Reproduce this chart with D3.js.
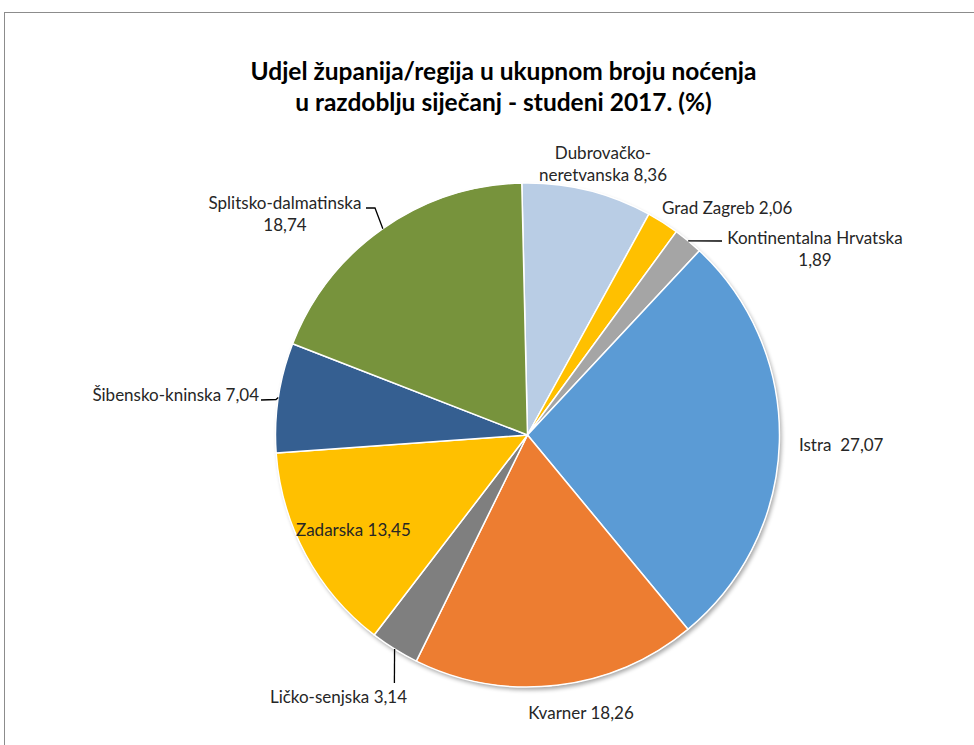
<!DOCTYPE html>
<html>
<head>
<meta charset="utf-8">
<script src="https://cdn.jsdelivr.net/npm/d3@7"></script>
<style>
  html, body { margin: 0; padding: 0; background: #fff; }
  svg { display: block; }
  text { font-family: Lato, "Open Sans", sans-serif; }
</style>
</head>
<body>
<svg id="chart" width="974" height="745"></svg>
<script>
// ---- data ----
const categories = [
  "Dubrovačko-neretvanska", "Grad Zagreb", "Kontinentalna Hrvatska", "Istra",
  "Kvarner", "Ličko-senjska", "Zadarska", "Šibensko-kninska", "Splitsko-dalmatinska"
];
const values = [8.36, 2.06, 1.89, 27.07, 18.26, 3.14, 13.45, 7.04, 18.74];
const valueLabels = ["8,36", "2,06", "1,89", "27,07", "18,26", "3,14", "13,45", "7,04", "18,74"];
const sliceColors = ["#B9CDE5", "#FFC000", "#A5A5A5", "#5B9BD5", "#ED7D31", "#7F7F7F", "#FFC000", "#355F91", "#77933C"];
const titleLines = ["Udjel županija/regija u ukupnom broju noćenja", "u razdoblju siječanj - studeni 2017. (%)"];

// ---- layout ----
const W = 974, H = 745;
const cx = 527.5, cy = 435, R = 252;
const startOffset = -1.3 * Math.PI / 180;

// label text lines & placement (layout, not data)
const labelLayout = {
  "Dubrovačko-neretvanska": {lines: ["Dubrovačko-", "neretvanska " + valueLabels[0]], x: 603, y: 159, anchor: "middle"},
  "Grad Zagreb": {lines: ["Grad Zagreb " + valueLabels[1]], x: 662, y: 214, anchor: "start"},
  "Kontinentalna Hrvatska": {lines: ["Kontinentalna Hrvatska", valueLabels[2]], x: 815, y: 244, anchor: "middle", leader: [[722, 241]]},
  "Istra": {lines: ["Istra\u00a0\u00a0" + valueLabels[3]], x: 799, y: 451, anchor: "start"},
  "Kvarner": {lines: ["Kvarner " + valueLabels[4]], x: 581, y: 719, anchor: "middle"},
  "Ličko-senjska": {lines: ["Ličko-senjska " + valueLabels[5]], x: 338.5, y: 703, anchor: "middle", leader: [[394.4, 683]]},
  "Zadarska": {lines: ["Zadarska " + valueLabels[6]], x: 296, y: 536, anchor: "start"},
  "Šibensko-kninska": {lines: ["Šibensko-kninska " + valueLabels[7]], x: 259, y: 401, anchor: "end", leader: [[276, 399.5], [261, 400]]},
  "Splitsko-dalmatinska": {lines: ["Splitsko-dalmatinska", valueLabels[8]], x: 285, y: 209, anchor: "middle", leader: [[375, 208], [366, 208]]}
};
const lineGap = 22;

const svg = d3.select("#chart");

// frame
svg.append("rect")
  .attr("x", 4.5).attr("y", 12.5)
  .attr("width", 1200).attr("height", 1200)
  .attr("fill", "#fff").attr("stroke", "#8c8c8c").attr("stroke-width", 1);

// title
const title = svg.append("text")
  .attr("text-anchor", "middle")
  .attr("font-weight", "bold")
  .attr("font-size", 24.5)
  .attr("fill", "#000");
titleLines.forEach((t, i) => {
  title.append("tspan").attr("x", 503.5).attr("y", 80 + i * 31).text(t);
});

// shadow filter
const defs = svg.append("defs");
const f = defs.append("filter").attr("id", "shadow").attr("x", "-10%").attr("y", "-10%").attr("width", "120%").attr("height", "120%");
f.append("feGaussianBlur").attr("in", "SourceAlpha").attr("stdDeviation", 2);
f.append("feOffset").attr("dx", 1.5).attr("dy", 2.5).attr("result", "ob");
f.append("feComponentTransfer").append("feFuncA").attr("type", "linear").attr("slope", 0.35);
const merge = f.append("feMerge");
merge.append("feMergeNode");
merge.append("feMergeNode").attr("in", "SourceGraphic");

const data = categories.map((c, i) => ({name: c, value: values[i], color: sliceColors[i]}));

const pie = d3.pie()
  .value(d => d.value)
  .sort(null)
  .startAngle(startOffset)
  .endAngle(startOffset + 2 * Math.PI);

const arc = d3.arc().innerRadius(0).outerRadius(R);
const arcs = pie(data);

const g = svg.append("g").attr("transform", `translate(${cx},${cy})`);
g.append("circle").attr("r", R).attr("fill", "#fff").attr("filter", "url(#shadow)");
g.selectAll("path.slice")
  .data(arcs)
  .enter().append("path")
  .attr("class", "slice")
  .attr("d", arc)
  .attr("fill", d => d.data.color)
  .attr("stroke", "#fff")
  .attr("stroke-width", 1.5)
  .attr("stroke-linejoin", "round");

// leaders
arcs.forEach(a => {
  const L = labelLayout[a.data.name];
  if (!L.leader) return;
  const mid = (a.startAngle + a.endAngle) / 2;
  const p0 = [cx + R * Math.sin(mid), cy - R * Math.cos(mid)];
  const pts = [p0].concat(L.leader);
  svg.append("path")
    .attr("d", d3.line()(pts))
    .attr("fill", "none")
    .attr("stroke", "#000")
    .attr("stroke-width", 1.3);
});

// labels
arcs.forEach(a => {
  const L = labelLayout[a.data.name];
  const t = svg.append("text")
    .attr("text-anchor", L.anchor)
    .attr("font-size", 17)
    .attr("fill", "#262626");
  L.lines.forEach((ln, i) => {
    t.append("tspan").attr("x", L.x).attr("y", L.y + i * lineGap).text(ln);
  });
});
</script>
</body>
</html>
